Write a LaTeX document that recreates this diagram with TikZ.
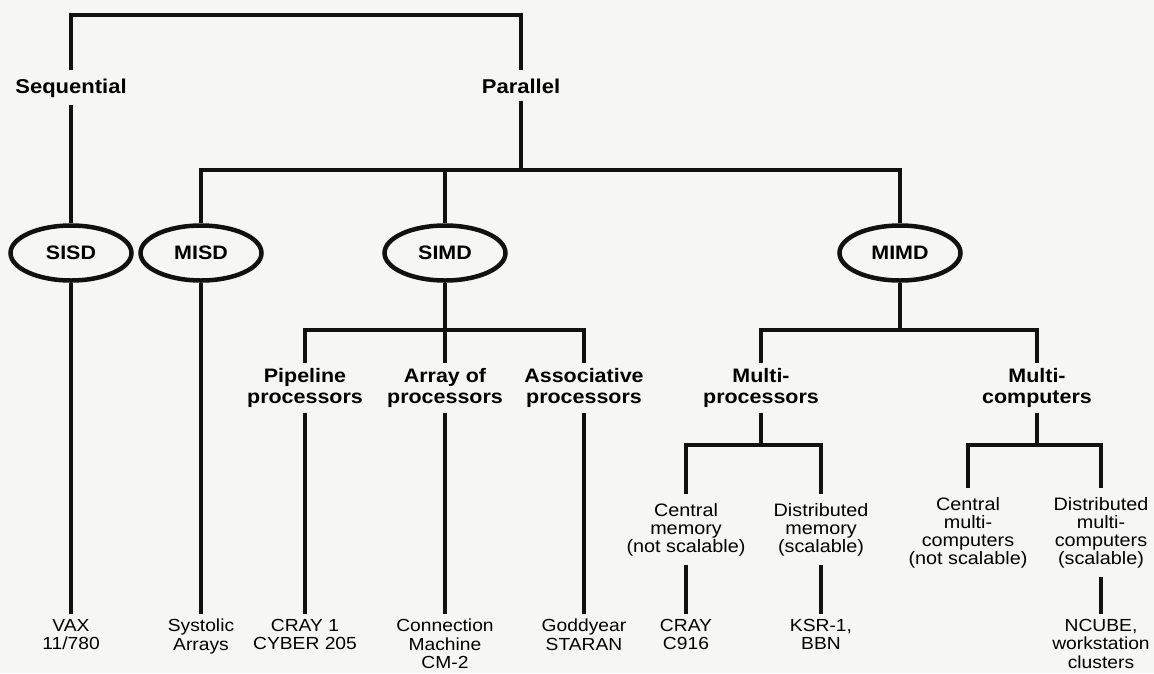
\documentclass[tikz,border=0pt]{standalone}
\usepackage{fontspec}
\setmainfont{Liberation Sans}[FakeStretch=1.1]
\usepackage{tikz}
\usetikzlibrary{positioning,shapes.geometric}
\definecolor{ink}{HTML}{111111}
\definecolor{paper}{HTML}{F6F6F4}

\begin{document}
\begin{tikzpicture}[
    x=1pt, y=-1pt,
    topcat/.style={font=\bfseries\fontsize{20}{21}\selectfont, inner sep=8pt, anchor=base},
    classbox/.style={ellipse, draw=ink, line width=4.5pt, minimum width=121pt,
                     minimum height=55pt, inner sep=0pt,
                     font=\bfseries\fontsize{19.5}{21}\selectfont},
    subcat/.style={align=center, font=\bfseries\fontsize{19.5}{21}\selectfont,
                   inner sep=5pt, anchor=north},
    memcat/.style={align=center, font=\fontsize{18}{18}\selectfont,
                   inner xsep=3pt, inner ysep=9pt, anchor=north},
    mach/.style={align=center, font=\fontsize{17.5}{18.3}\selectfont,
                 inner sep=5pt, anchor=north},
    link/.style={draw=ink, line width=4.5pt},
]
\fill[paper] (0,0) rectangle (1154,673);
\useasboundingbox (0,0) rectangle (1154,673);

% top split
\coordinate (root) at (300,15);
\node[topcat] (seq) at (71,93) {Sequential};
\node[topcat] (par) at (521,93) {Parallel};

% Flynn classes
\coordinate (pbar) at (521,170);
\node[classbox] (sisd) at (71,253) {SISD};
\node[classbox] (misd) at (201,253) {MISD};
\node[classbox] (simd) at (445,253) {SIMD};
\node[classbox] (mimd) at (900,253) {MIMD};

% SIMD branch
\coordinate (sbar) at (445,330);
\node[subcat] (pipe) at (305,363) {Pipeline\\processors};
\node[subcat] (arr) at (445,363) {Array of\\processors};
\node[subcat] (assoc) at (584,363) {Associative\\processors};

% MIMD branch
\coordinate (mbar) at (900,330);
\node[subcat] (mproc) at (761,363) {Multi-\\processors};
\node[subcat] (mcomp) at (1037,363) {Multi-\\computers};

\coordinate (mpbar) at (753,445);
\node[memcat] (cmem) at (686,494) {Central\\memory\\(not scalable)};
\node[memcat] (dmem) at (821,494) {Distributed\\memory\\(scalable)};
\coordinate (mcbar) at (1035,445);
\node[memcat] (cmc) at (968,488) {Central\\multi-\\computers\\(not scalable)};
\node[memcat] (dmc) at (1101,488) {Distributed\\multi-\\computers\\(scalable)};

% machines
\node[mach] (vax) at (71,614) {VAX\\11/780};
\node[mach] (systolic) at (201,614) {Systolic\\Arrays};
\node[mach] (cray1) at (305,614) {CRAY 1\\CYBER 205};
\node[mach] (cm2) at (445,614) {Connection\\Machine\\CM-2};
\node[mach] (goodyear) at (584,614) {Goddyear\\STARAN};
\node[mach] (c916) at (686,614) {CRAY\\C916};
\node[mach] (ksr) at (821,614) {KSR-1,\\BBN};
\node[mach] (ncube) at (1101,614) {NCUBE,\\workstation\\clusters};

\draw[link] (seq) |- (root) -| (par);
\draw[link] (seq) -- (sisd);
\draw[link] (par) -- (par |- pbar);
\draw[link] (misd) |- (pbar) -| (mimd);
\draw[link] (simd) -- (simd |- pbar);
\draw[link] (sisd) -- (vax);
\draw[link] (misd) -- (systolic);

\draw[link] (simd) -- (arr);
\draw[link] (pipe) |- (sbar) -| (assoc);
\draw[link] (pipe) -- (cray1);
\draw[link] (arr) -- (cm2);
\draw[link] (assoc) -- (goodyear);

\draw[link] (mimd) -- (mimd |- mbar);
\draw[link] (mproc) |- (mbar) -| (mcomp);
\draw[link] (mproc) -- (mproc |- mpbar);
\draw[link] (cmem) |- (mpbar) -| (dmem);
\draw[link] (mcomp) -- (mcomp |- mcbar);
\draw[link] (cmc) |- (mcbar) -| (dmc);
\draw[link] (cmem) -- (c916);
\draw[link] (dmem) -- (ksr);
\draw[link] (dmc) -- (ncube);
\end{tikzpicture}
\end{document}
